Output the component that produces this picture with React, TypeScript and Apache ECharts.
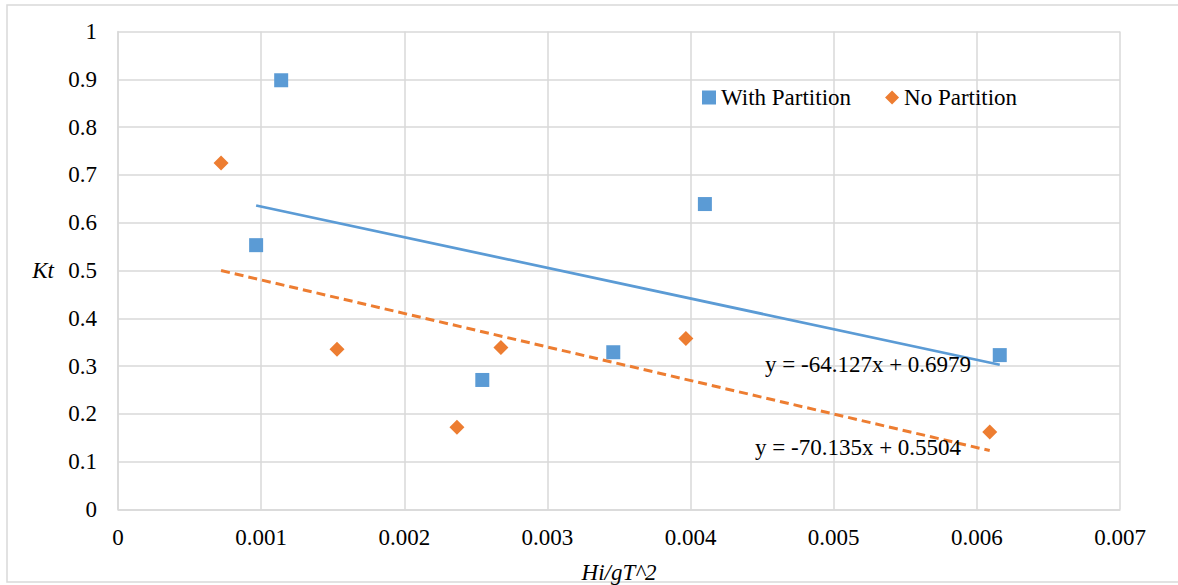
import React, { useEffect, useRef } from "react";
import * as echarts from "echarts";

// Data
const withPartitionX = [0.000965, 0.00114, 0.002545, 0.00346, 0.0041, 0.00616];
const withPartitionY = [0.553, 0.898, 0.271, 0.329, 0.639, 0.323];
const noPartitionX = [0.00072, 0.00153, 0.002368, 0.002675, 0.003967, 0.00609];
const noPartitionY = [0.725, 0.335, 0.172, 0.339, 0.358, 0.162];

// Linear trendline coefficients shown on the chart
const withTrend = { slope: -64.127, intercept: 0.6979 };
const noTrend = { slope: -70.135, intercept: 0.5504 };
const withEquation = "y = -64.127x + 0.6979";
const noEquation = "y = -70.135x + 0.5504";

const seriesNames = ["With Partition", "No Partition"];

const FONT = "Liberation Serif";

function pairs(xs: number[], ys: number[]) {
  return xs.map((x, i) => [x, ys[i]]);
}

function trendLine(xs: number[], t: { slope: number; intercept: number }) {
  const lo = Math.min(...xs);
  const hi = Math.max(...xs);
  return [
    [lo, t.slope * lo + t.intercept],
    [hi, t.slope * hi + t.intercept],
  ];
}

export default function App() {
  const ref = useRef<HTMLDivElement>(null);

  useEffect(() => {
    if (!ref.current) return;
    const chart = echarts.init(ref.current, undefined, { renderer: "svg" });
    const grid = "#d9d9d9";
    chart.setOption({
      animation: false,
      backgroundColor: "#ffffff",
      textStyle: { fontFamily: FONT },
      grid: { left: 118, right: 58, top: 31.5, bottom: 75.5, outerBoundsMode: "none", containLabel: false },
      legend: {
        data: [
          { name: seriesNames[0], icon: "rect" },
          { name: seriesNames[1], icon: "diamond" },
        ],
        left: 697,
        top: 81,
        itemWidth: 14,
        itemHeight: 14,
        itemGap: 34,
        textStyle: { fontFamily: FONT, fontSize: 23, color: "#000" },
      },
      xAxis: {
        type: "value",
        min: 0,
        max: 0.007,
        interval: 0.001,
        name: "Hi/gT^2",
        nameLocation: "middle",
        nameGap: 51,
        nameTextStyle: { fontFamily: FONT, fontSize: 23, fontStyle: "italic", color: "#000" },
        axisLine: { show: true, lineStyle: { color: grid, width: 1.5 } },
        axisTick: { show: false },
        axisLabel: {
          margin: 16,
          fontFamily: FONT,
          fontSize: 23,
          color: "#000",
          formatter: (v: number) => String(+v.toFixed(3)),
        },
        splitLine: { show: true, lineStyle: { color: grid, width: 1.5 } },
      },
      yAxis: {
        type: "value",
        min: 0,
        max: 1,
        interval: 0.1,
        name: "Kt",
        nameLocation: "middle",
        nameRotate: 0,
        nameGap: 64,
        nameTextStyle: { fontFamily: FONT, fontSize: 23, fontStyle: "italic", color: "#000" },
        axisLine: { show: true, lineStyle: { color: grid, width: 1.5 } },
        axisTick: { show: false },
        axisLabel: {
          margin: 21,
          fontFamily: FONT,
          fontSize: 23,
          color: "#000",
          formatter: (v: number) => String(+v.toFixed(1)),
        },
        splitLine: { show: true, lineStyle: { color: grid, width: 1.5 } },
      },
      graphic: [
        {
          type: "rect",
          shape: { x: 7, y: 5, width: 1200, height: 577 },
          style: { fill: "none", stroke: grid, lineWidth: 1.5 },
          silent: true,
          z: -10,
        },
        {
          type: "text",
          left: 765,
          top: 353,
          style: { text: withEquation, fontFamily: FONT, fontSize: 23, fill: "#000" },
          z: 10,
        },
        {
          type: "text",
          left: 755,
          top: 436,
          style: { text: noEquation, fontFamily: FONT, fontSize: 23, fill: "#000" },
          z: 10,
        },
      ],
      series: [
        {
          name: seriesNames[0] + " trend",
          type: "line",
          data: trendLine(withPartitionX, withTrend),
          showSymbol: false,
          symbol: "none",
          lineStyle: { color: "#5B9BD5", width: 2.75 },
          z: 2,
        },
        {
          name: seriesNames[1] + " trend",
          type: "line",
          data: trendLine(noPartitionX, noTrend),
          showSymbol: false,
          symbol: "none",
          lineStyle: { color: "#ED7D31", width: 3, type: [9, 5] },
          z: 2,
        },
        {
          name: seriesNames[0],
          type: "scatter",
          symbol: "rect",
          symbolSize: 14,
          data: pairs(withPartitionX, withPartitionY),
          itemStyle: { color: "#5B9BD5", opacity: 1 },
          z: 3,
        },
        {
          name: seriesNames[1],
          type: "scatter",
          symbol: "diamond",
          symbolSize: 15,
          data: pairs(noPartitionX, noPartitionY),
          itemStyle: { color: "#ED7D31", opacity: 1 },
          z: 3,
        },
      ],
    });
    return () => chart.dispose();
  }, []);

  return (
    <div
      ref={ref}
      style={{ position: "fixed", left: 0, top: 0, width: 1178, height: 585, background: "#fff" }}
    />
  );
}
